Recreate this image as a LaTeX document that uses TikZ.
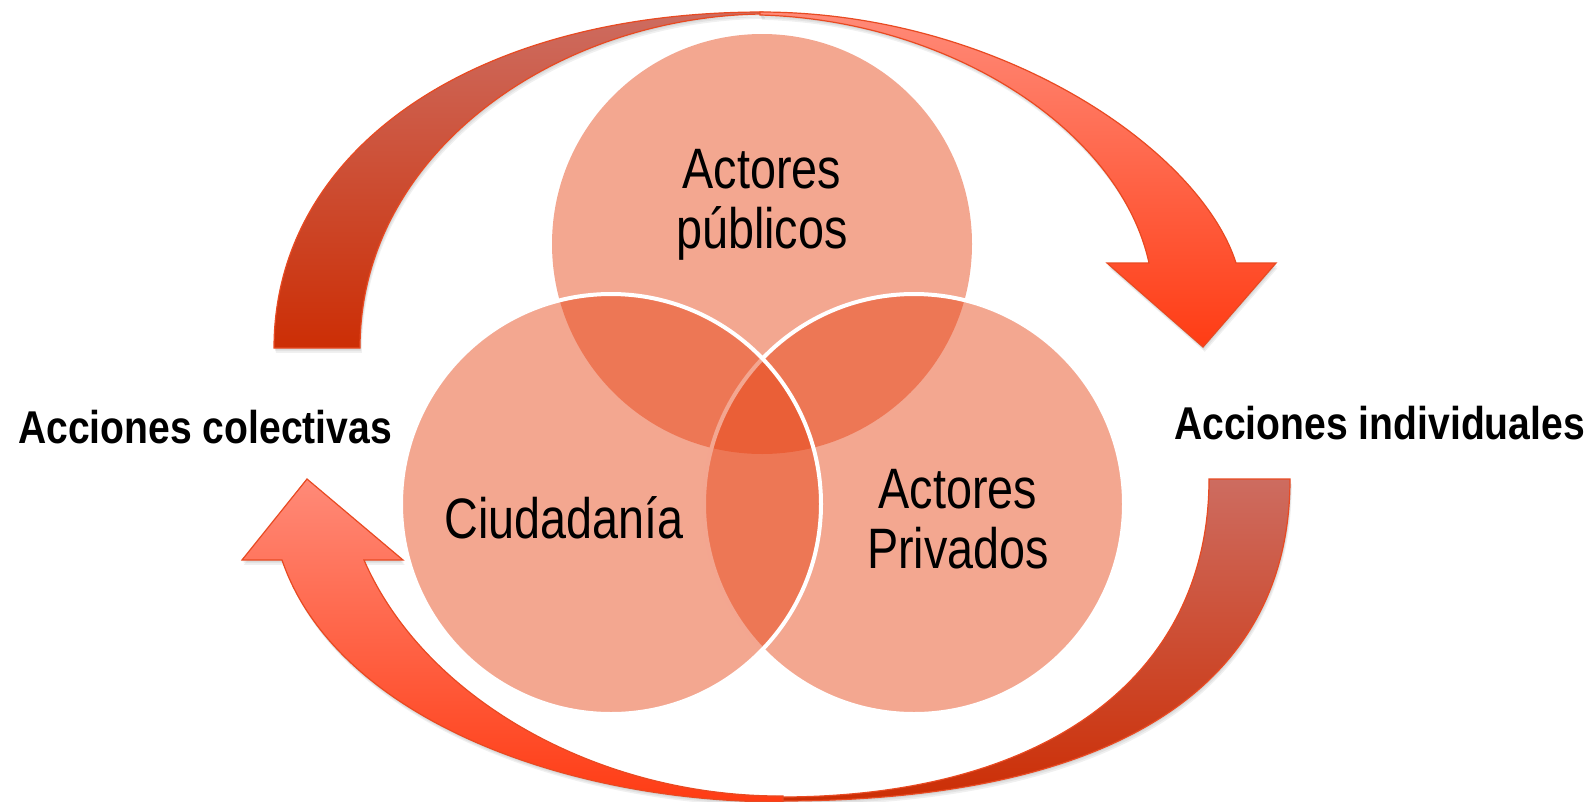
\documentclass[tikz,border=0pt]{standalone}
\usepackage{fontspec}
\newfontfamily\vennfont[FakeStretch=0.82]{Liberation Sans}
\newfontfamily\sidefont[FakeStretch=0.85]{Liberation Sans}
\definecolor{vennred}{RGB}{230,67,20}
\definecolor{darktop}{RGB}{205,108,96}
\definecolor{darkbot}{RGB}{204,46,5}
\definecolor{brighttop}{RGB}{255,138,120}
\definecolor{brightbot}{RGB}{255,60,20}
\definecolor{arrowline}{RGB}{232,74,34}
\tikzset{
  darkarrow/.style={top color=darktop, bottom color=darkbot, draw=arrowline, line width=1.2pt},
  brightarrow/.style={top color=brighttop, bottom color=brightbot, draw=arrowline, line width=1.2pt},
  arrowshadow/.style={fill=black, opacity=0.06, draw=none},
  vennset/.style={circle, minimum size=420pt, inner sep=0pt, fill=vennred, fill opacity=0.47},
  vennedge/.style={draw=white, line width=4pt},
  circtext/.style={font=\vennfont\fontsize{57}{60}\selectfont, align=center, text=black, inner sep=0pt},
  sidelabel/.style={font=\sidefont\bfseries\fontsize{46}{50}\selectfont, text=black, inner sep=0pt}
}
\def\pTL{(274,348) .. controls (274,152) and (470,12) .. (763,12) -- (763,14) .. controls (560,16) and (360,150) .. (360,348) -- cycle}
\def\pTR{(760,12) .. controls (1000,12) and (1200,150) .. (1236,263) -- (1276,263) -- (1203,347) -- (1107,263) -- (1149,263) .. controls (1120,130) and (950,20) .. (760,15) -- cycle}
\def\pBR{(1290,479) .. controls (1290,689) and (1111,801) .. (780,801) -- (780,797) .. controls (1047,797) and (1209,676) .. (1209,479) -- cycle}
\def\pBL{(783,802) .. controls (560,802) and (335,715) .. (282,560) -- (242,560) -- (307,479) -- (403,560) -- (364,560) .. controls (425,700) and (600,797) .. (783,796) -- cycle}
\begin{document}
\begin{tikzpicture}[x=1pt,y=-1pt]
\useasboundingbox (0,0) rectangle (1592,801);
\clip (0,0) rectangle (1592,801);
% soft shadows of the arrows
\foreach \s in {1,2,3}{
  \fill[arrowshadow, xshift={0.6pt*\s}, yshift={-1.6pt*\s}] \pTL;
  \fill[arrowshadow, xshift={0.6pt*\s}, yshift={-1.6pt*\s}] \pTR;
  \fill[arrowshadow, xshift={0.6pt*\s}, yshift={-1.6pt*\s}] \pBR;
  \fill[arrowshadow, xshift={0.6pt*\s}, yshift={-1.6pt*\s}] \pBL;
}
% curved arrows
\draw[darkarrow] \pTL;
\draw[brightarrow] \pTR;
\draw[darkarrow] \pBR;
\draw[brightarrow] \pBL;
% Venn circles
\node[vennset] (pub) at (762,244) {};
\node[vennset, vennedge] (priv) at (914,504) {};
\node[vennset, vennedge] (ciud) at (611,504) {};
% texts
\node[circtext, anchor=base] (tpub) at (762,248) {Actores\\públicos};
\node[circtext, anchor=base] (tciud) at (564,538) {Ciudadanía};
\node[circtext, anchor=base] (tpriv) at (958,568) {Actores\\Privados};
\node[sidelabel, anchor=base west] (lcol) at (18,443) {Acciones colectivas};
\node[sidelabel, anchor=base west] (lind) at (1174,439) {Acciones individuales};
\end{tikzpicture}
\end{document}
